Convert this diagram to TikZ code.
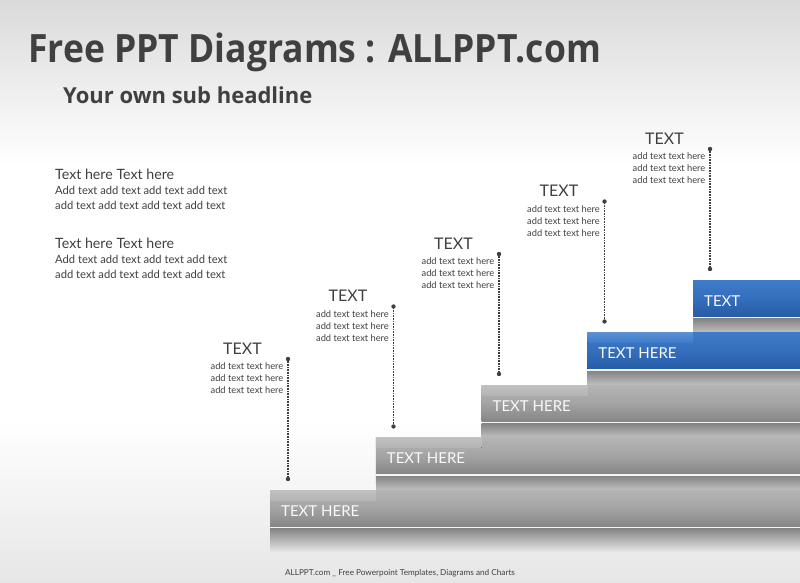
\documentclass[tikz,border=0pt]{standalone}
\usepackage{fontspec}
\setmainfont{Lato}
\newfontfamily\titlefont{Open Sans}
\definecolor{bartop}{RGB}{180,180,180}
\definecolor{barmid}{RGB}{164,164,164}
\definecolor{barbot}{RGB}{134,134,134}
\definecolor{facetop}{RGB}{130,130,130}
\definecolor{facebot}{RGB}{236,236,236}
\definecolor{bluetop}{RGB}{62,124,202}
\definecolor{bluemid}{RGB}{52,110,188}
\definecolor{bluebot}{RGB}{40,92,166}
\definecolor{txt}{RGB}{64,64,64}
\definecolor{bgtop}{RGB}{218,218,218}
\definecolor{bgbot}{RGB}{230,230,230}
\begin{document}
\begin{tikzpicture}[x=1pt,y=-1pt,
  titletext/.style={font=\titlefont\bfseries\fontsize{39}{39}\selectfont, text=txt, inner sep=0, anchor=base west},
  subtext/.style={font=\titlefont\bfseries\fontsize{22}{22}\selectfont, text=txt, inner sep=0, anchor=base west},
  headtext/.style={font=\fontsize{14.2}{14.2}\selectfont, text=txt, inner sep=0, anchor=base west},
  bodytext/.style={font=\fontsize{11.2}{11.2}\selectfont, text=txt, inner sep=0, anchor=base west},
  steptitle/.style={font=\fontsize{16}{16}\selectfont, text=txt, inner sep=0, anchor=base},
  stepline/.style={font=\fontsize{9.3}{9.3}\selectfont, text=txt, inner sep=0, anchor=base east},
  barlabel/.style={font=\fontsize{15}{15}\selectfont, text=white!95!gray, inner sep=0, anchor=base west},
  footer/.style={font=\fontsize{8.2}{8.2}\selectfont, text=txt, inner sep=0, anchor=base},
  connector/.style={draw=txt, dash pattern=on 0.9pt off 0.7pt, line width=1.1pt},
  enddot/.style={fill=txt}
]
\useasboundingbox (0,0) rectangle (800,583);
% background
\fill[white] (0,0) rectangle (800,583);
\fill[top color=bgtop, bottom color=white] (0,0) rectangle (800,165);
\fill[top color=white, bottom color=bgbot] (0,420) rectangle (800,583);

% steps, from the top one down
\foreach \i/\lab in {4/TEXT,3/TEXT HERE,2/TEXT HERE,1/TEXT HERE,0/TEXT HERE}{
  \pgfmathsetmacro{\L}{270+105.75*\i}
  \pgfmathsetmacro{\T}{490-52.5*\i}
  \pgfmathsetmacro{\N}{\L+105.75}
  % front face
  \fill[top color=facetop, bottom color=facebot] (\L,\T+38) rectangle (800,\T+63);
  \fill[white!92!gray] (\L,\T+36) rectangle (800,\T+38);
  % bevel on top
  \ifnum\i=0
    \fill[gray!7] (\L,\T) -- (\L+10,\T-6) -- (\N,\T-6) -- (\N,\T) -- cycle;
  \fi
  % bar
  \ifnum\i>2
    \fill[top color=bluetop, bottom color=bluebot, middle color=bluemid] (\L,\T) rectangle (800,\T+36);
    \ifnum\i<4
      \fill[top color=bluetop!85!white, bottom color=bluetop] (\L,\T) rectangle (\N,\T+10);
    \fi
  \else
    \fill[top color=bartop, bottom color=barbot, middle color=barmid] (\L,\T) rectangle (800,\T+36);
    \fill[top color=bartop!82!white, bottom color=bartop] (\L,\T) rectangle (\N,\T+10);
  \fi
  \node[barlabel] (bar\i) at (\L+11,\T+26) {\lab};
}

% text blocks and connectors
\foreach \i in {0,...,4}{
  \pgfmathsetmacro{\dy}{52.5*\i}
  \pgfmathsetmacro{\dx}{105.5*\i}
  \node[steptitle] (st\i) at (242.5+\dx,354-\dy) {TEXT};
  \node[stepline] (sa\i) at (283.5+\dx,369.5-\dy) {add text text here};
  \node[stepline] (sb\i) at (283.5+\dx,381.5-\dy) {add text text here};
  \node[stepline] (sc\i) at (283.5+\dx,393.5-\dy) {add text text here};
  \coordinate (ct\i) at (288+\dx,359-\dy);
  \coordinate (cb\i) at (288+\dx,479-\dy);
  \draw[connector] (ct\i) -- (cb\i);
  \fill[enddot] (ct\i) circle (2.2);
  \fill[enddot] (cb\i) circle (2.2);
}

% titles
\node[titletext] (title) at (28,63) {\scalebox{0.91}[1]{Free PPT Diagrams : ALLPPT.com}};
\node[subtext] (sub) at (63,104) {Your own sub headline};

% left texts
\node[headtext] (h1) at (55,179) {Text here Text here};
\node[bodytext] (b1) at (55,194) {Add text add text add text add text};
\node[bodytext] (b2) at (55,209) {add text add text add text add text};
\node[headtext] (h2) at (55,248) {Text here Text here};
\node[bodytext] (b3) at (55,263) {Add text add text add text add text};
\node[bodytext] (b4) at (55,278) {add text add text add text add text};

% footer
\node[footer] (foot) at (400,575) {ALLPPT.com \_ Free Powerpoint Templates, Diagrams and Charts};
\end{tikzpicture}
\end{document}
